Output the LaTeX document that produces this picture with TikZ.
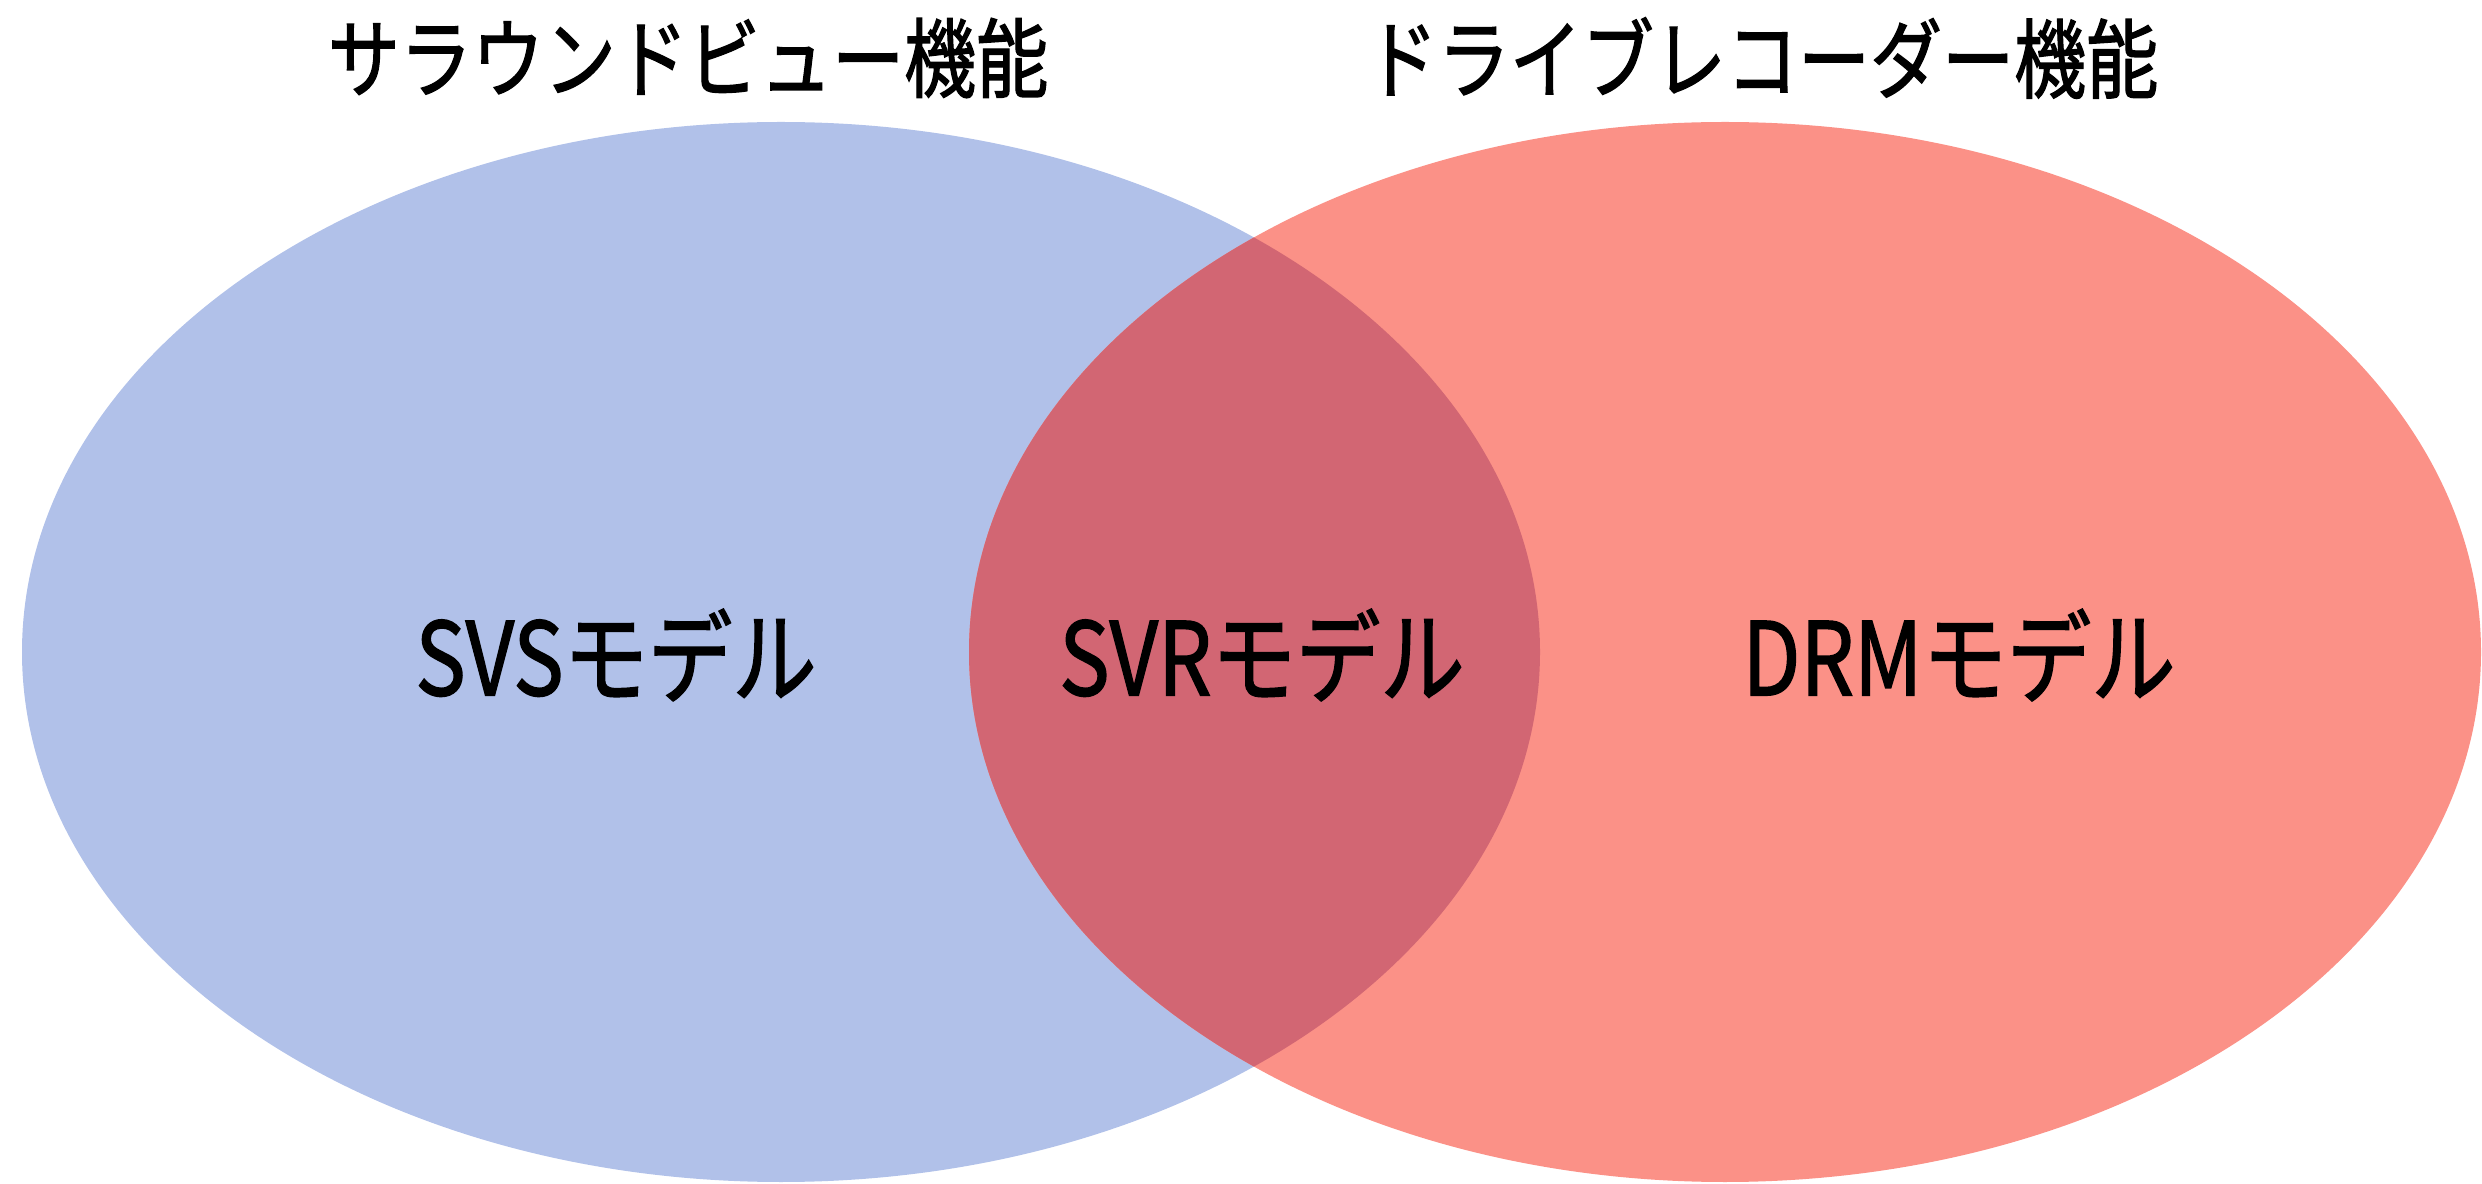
\documentclass[tikz,border=0pt]{standalone}
\usepackage{fontspec}
\setmainfont[FakeBold=1.6]{Noto Sans CJK JP}
\usepackage{graphicx}
\usepackage{tikz}
\usetikzlibrary{positioning}

\definecolor{svsblue}{RGB}{177,193,233}
\definecolor{drmred}{RGB}{251,145,135}
\definecolor{svrred}{RGB}{210,102,115}

\newcommand{\tall}[1]{\scalebox{1}[1.2]{#1}}

\begin{document}
\begin{tikzpicture}
    \tikzset{
        title/.style = {font=\fontsize{20.5}{24}\selectfont, text=black, inner sep=0pt},
        model/.style = {font=\fontsize{24}{28}\selectfont, text=black, inner sep=0pt}
    }
    \useasboundingbox (0,0) rectangle (24.82,11.83);

    % two sets and their overlap
    \fill [svsblue] (7.81,5.31) ellipse [x radius=7.59, y radius=5.30];
    \fill [drmred] (17.25,5.31) ellipse [x radius=7.56, y radius=5.30];
    \begin{scope}
        \clip (7.81,5.31) ellipse [x radius=7.59, y radius=5.30];
        \fill [svrred] (17.25,5.31) ellipse [x radius=7.56, y radius=5.30];
    \end{scope}

    \node (svtitle) [title] at (6.88,11.25) {\tall{サラウンドビュー機能}};
    \node (drtitle) [title] at (17.62,11.25) {\tall{ドライブレコーダー機能}};

    \node (svs) [model] at (6.16,5.28) {\tall{SVSモデル}};
    \node (svr) [model] at (12.62,5.28) {\tall{SVRモデル}};
    \node (drm) [model] at (19.59,5.28) {\tall{DRMモデル}};
\end{tikzpicture}
\end{document}
